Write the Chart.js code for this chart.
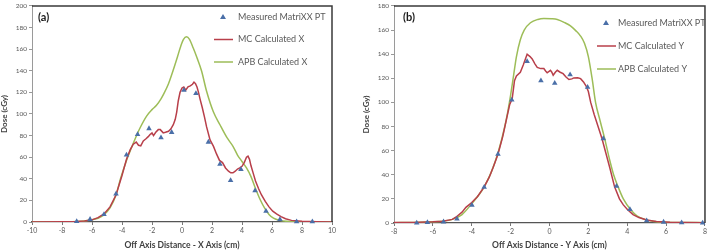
<!DOCTYPE html>
<html>
<head>
<meta charset="utf-8">
<script src="https://cdn.jsdelivr.net/npm/chart.js@4.4.0/dist/chart.umd.min.js"></script>
<style>
  body { margin: 0; background: #fff; }
  #wrap { position: relative; width: 709px; height: 251px; }
  canvas { position: absolute; top: 0; }
  #chartA { left: 0; }
  #chartB { left: 355px; }
</style>
</head>
<body>
<div id="wrap">
  <canvas id="chartA" width="355" height="251"></canvas>
  <canvas id="chartB" width="354" height="251"></canvas>
</div>
<script>
// ---- panel (a): X profile ----
const xTicksA = [-10, -8, -6, -4, -2, 0, 2, 4, 6, 8, 10];
const yTicksA = [0, 20, 40, 60, 80, 100, 120, 140, 160, 180, 200];
const measXpos  = [-7.02,-6.13,-5.2,-4.4,-3.7,-2.96,-2.2,-1.4,-0.69,0.13,0.93,1.76,2.53,3.24,3.93,4.87,5.6,6.53,7.64,8.69];
const measXdose = [0.6,2.5,7,26,62,81,86.5,78,83,122,119,74,53.5,38.5,48.7,29,10,2.4,0.3,0.3];
const mcXpos  = [-10,-8,-7,-6.5,-6,-5.6,-5.2,-4.8,-4.4,-4.0,-3.7,-3.45,-3.25,-3.05,-2.9,-2.75,-2.58,-2.4,-2.25,-2.13,
                 -2.0,-1.9,-1.75,-1.58,-1.45,-1.25,-1.1,-0.9,-0.75,-0.58,-0.45,-0.35,-0.25,-0.13,0,0.12,0.25,0.4,0.55,0.7,
                 0.8,0.9,1.0,1.1,1.2,1.35,1.5,1.64,1.87,2.1,2.3,2.5,2.7,2.9,3.1,3.25,3.4,3.55,3.7,3.85,
                 4.0,4.15,4.3,4.4,4.5,4.6,4.75,4.9,5.1,5.3,5.55,5.8,6.05,6.3,6.6,6.9,7.3,8,9,10];
const mcXdose = [0,0.2,0.5,1,2,4,7.5,14,25,43,58,67,72,74,71,70.5,75,77,79,81,
                 82.5,80,83,85.5,85.5,82.5,83,84,86,90,95,102,112,120,124,125,122,125,126,127.5,
                 129.5,128,125,120,114,106,97,88,76,70,63,57,55,50,47,45.5,45.5,47,49,50,
                 51.5,55,60,61,58,52,45,38,31,25,19,14,10,7.5,5,3,1.5,0.7,0.2,0];
const apbXpos  = [-10,-8,-7,-6.5,-6,-5.6,-5.25,-4.8,-4.4,-4.1,-3.7,-3.45,-3.0,-2.8,-2.36,-2.0,-1.7,-1.4,-1.2,-0.9,
                  -0.6,-0.3,-0.1,0.1,0.3,0.5,0.75,1.0,1.3,1.64,2.09,2.53,3.0,3.4,3.7,4.0,4.3,4.6,4.9,5.2,
                  5.5,5.8,6.1,6.5,7,8,10];
const apbXdose = [0,0.2,0.5,1,2,3.5,6,13,25,40,57,66,81,87,98,104,108,114,119,128,
                  140,153,162,169,171.4,169,161,152,140,121,102,90,78,70,62,56,50,42,31,21,
                  13,7,3.5,1.5,0.6,0.2,0];

// ---- panel (b): Y profile ----
const xTicksB = [-8, -6, -4, -2, 0, 2, 4, 6, 8];
const yTicksB = [0, 20, 40, 60, 80, 100, 120, 140, 160, 180];
const measYpos  = [-6.83,-6.28,-5.45,-4.76,-3.99,-3.36,-2.65,-1.94,-1.15,-0.44,0.27,1.06,1.96,2.77,3.45,4.14,5.0,5.87,6.8,7.88];
const measYdose = [0,0.5,1,3.3,14.7,29.7,57,102,134,118,116,123,112.6,70,30.5,11.2,2,0.8,0.3,0];
const mcYpos  = [-8,-7,-6,-5.5,-5.0,-4.8,-4.5,-4.3,-4.0,-3.7,-3.36,-3.1,-2.9,-2.65,-2.4,-2.2,-2.05,-1.92,-1.8,-1.7,
                 -1.5,-1.35,-1.15,-1.0,-0.89,-0.75,-0.63,-0.45,-0.29,-0.2,-0.12,0.05,0.12,0.19,0.3,0.4,0.55,0.7,0.85,1.0,
                 1.15,1.25,1.45,1.6,1.75,1.9,2.0,2.12,2.3,2.5,2.7,2.9,3.1,3.35,3.6,3.8,4.01,4.3,4.6,5.0,
                 5.5,6.2,7,8];
const mcYdose = [0.5,0.5,1,1.5,3,5,9,13,17,22,30,38,46,57,72,87,98,103,118,122,
                 125,131,140,138,136,132,129,128,128,126,124.5,126.6,125,122.5,125,126.6,125,123.8,121,119,
                 119.5,120.3,120.5,119.7,117,113,109,100,90,80,70,58,46,30,20,15,11.2,7,4.5,2.5,
                 1.2,0.6,0.4,0.3];
const apbYpos  = [-8,-7,-6,-5.5,-5.0,-4.5,-4.0,-3.6,-3.36,-3.0,-2.65,-2.3,-2.15,-2.0,-1.85,-1.7,-1.5,-1.3,-0.98,-0.6,
                  -0.29,0.1,0.4,0.8,1.08,1.35,1.6,1.8,2.0,2.2,2.37,2.6,2.84,3.1,3.3,3.53,3.8,4.18,4.5,4.9,
                  5.3,6,7,8];
const apbYdose = [0.3,0.5,1,1.5,3,7,16,24,30,42,58,80,92,106,122,138,152,160,166,168.8,
                  169.6,169.4,168.8,166,163.4,159.5,155,149,138,119,100,85,70,52,40,30,20,11,6,3,
                  1.5,0.6,0.4,0.3];

const FONT = "Lato, 'Open Sans', sans-serif";
const RED = '#b83f4a', GREEN = '#9dbd58', BLUE = '#4a6fa8';

function pts(xs, ys) {
  return xs.map((x, i) => ({ x: x, y: ys[i] }));
}

// frame on top/right, panel tag and legend inside the plot
const overlay = {
  id: 'overlay',
  afterDatasetsDraw(chart, args, o) {
    const ctx = chart.ctx, a = chart.chartArea;
    ctx.save();
    ctx.strokeStyle = '#3a3a3a';
    ctx.lineWidth = 1.5;
    ctx.beginPath();
    ctx.moveTo(a.left, a.top);
    ctx.lineTo(a.right, a.top);
    ctx.lineTo(a.right, a.bottom);
    ctx.stroke();

    ctx.fillStyle = '#1a1a1a';
    ctx.font = 'bold 11px ' + FONT;
    ctx.textBaseline = 'middle';
    ctx.fillText(o.tag, o.tagX, o.tagY);

    ctx.font = '9px ' + FONT;
    chart.data.datasets.forEach((ds, i) => {
      const y = o.legY + i * o.legGap;
      if (ds.showLine) {
        ctx.strokeStyle = ds.borderColor;
        ctx.lineWidth = 1.5;
        ctx.beginPath();
        ctx.moveTo(o.legX - 9, y);
        ctx.lineTo(o.legX + 10, y);
        ctx.stroke();
      } else {
        ctx.fillStyle = ds.backgroundColor;
        ctx.beginPath();
        ctx.moveTo(o.legX, y - 3);
        ctx.lineTo(o.legX + 3, y + 2);
        ctx.lineTo(o.legX - 3, y + 2);
        ctx.closePath();
        ctx.fill();
      }
      ctx.fillStyle = '#595959';
      ctx.fillText(ds.label, o.textX, y);
    });
    ctx.restore();
  }
};

function makeChart(id, p) {
  new Chart(document.getElementById(id), {
    type: 'scatter',
    data: {
      datasets: [
        { label: 'Measured MatriXX PT', data: pts(p.mx, p.my), showLine: false,
          pointStyle: 'triangle', pointRadius: 3.2, backgroundColor: BLUE, borderColor: BLUE,
          borderWidth: 0, clip: false },
        { label: p.mcLabel, data: pts(p.cx, p.cy), showLine: true, pointRadius: 0,
          borderColor: RED, backgroundColor: RED, borderWidth: 1.5, tension: 0 },
        { label: p.apbLabel, data: pts(p.ax, p.ay), showLine: true, pointRadius: 0,
          borderColor: GREEN, backgroundColor: GREEN, borderWidth: 1.5, cubicInterpolationMode: 'monotone' }
      ]
    },
    options: {
      responsive: false,
      animation: false,
      devicePixelRatio: 1,
      layout: { padding: p.pad },
      plugins: {
        legend: { display: false },
        tooltip: { enabled: false },
        overlay: p.overlay
      },
      scales: {
        x: {
          type: 'linear',
          min: p.xt[0], max: p.xt[p.xt.length - 1],
          afterBuildTicks: s => { s.ticks = p.xt.map(v => ({ value: v })); },
          afterFit: s => { s.height = p.xh; },
          ticks: { font: { family: FONT, size: 7 }, color: '#595959', padding: 2, maxRotation: 0 },
          grid: { drawOnChartArea: false, tickLength: 3, color: '#777' },
          border: { color: '#555', width: 1.2 },
          title: { display: true, text: p.xTitle, color: '#404040',
                   font: { family: FONT, size: 8.5, weight: 'bold' }, padding: { top: 0, bottom: 1 } }
        },
        y: {
          min: p.yt[0], max: p.yt[p.yt.length - 1],
          afterBuildTicks: s => { s.ticks = p.yt.map(v => ({ value: v })); },
          afterFit: s => { s.width = p.yw; },
          ticks: { font: { family: FONT, size: 6.5 }, color: '#595959', padding: 2 },
          grid: { drawOnChartArea: false, tickLength: 3, color: '#999' },
          border: { color: '#9a9a9a', width: 1 },
          title: { display: true, text: 'Dose (cGy)', color: '#404040',
                   font: { family: FONT, size: 8, weight: 'bold' }, padding: { top: p.yTitlePad, bottom: 0 } }
        }
      }
    },
    plugins: [overlay]
  });
}

makeChart('chartA', {
  mx: measXpos, my: measXdose, cx: mcXpos, cy: mcXdose, ax: apbXpos, ay: apbXdose,
  mcLabel: 'MC Calculated X', apbLabel: 'APB Calculated X',
  xt: xTicksA, yt: yTicksA, xTitle: 'Off Axis Distance - X Axis (cm)',
  pad: { top: 3, right: 23, left: 0, bottom: 0 }, xh: 29, yw: 32, yTitlePad: 0,
  overlay: { tag: '(a)', tagX: 38, tagY: 17, legX: 223, textX: 238, legY: 17, legGap: 22.5 }
});

makeChart('chartB', {
  mx: measYpos, my: measYdose, cx: mcYpos, cy: mcYdose, ax: apbYpos, ay: apbYdose,
  mcLabel: 'MC Calculated Y', apbLabel: 'APB Calculated Y',
  xt: xTicksB, yt: yTicksB, xTitle: 'Off Axis Distance - Y Axis (cm)',
  pad: { top: 3, right: 4, left: 0, bottom: 0 }, xh: 28, yw: 39, yTitlePad: 7,
  overlay: { tag: '(b)', tagX: 48, tagY: 17, legX: 251, textX: 263, legY: 23, legGap: 23 }
});
</script>
</body>
</html>
